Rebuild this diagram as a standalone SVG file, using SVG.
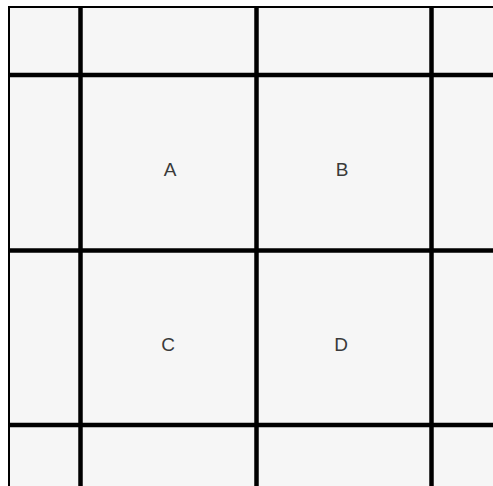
<svg xmlns="http://www.w3.org/2000/svg" width="493" height="486" viewBox="0 0 493 486">
<style>
.grid{stroke:#000;stroke-width:4.5}
.border{stroke:#000;stroke-width:2}
.lbl{font-family:"Liberation Sans",Arial,sans-serif;font-size:19px;fill:#3a3a3a;text-anchor:middle}
</style>
<rect width="493" height="486" fill="#fff"/>
<rect x="9" y="7" width="484" height="479" fill="#f6f6f6"/>
<g id="connectors">
<line class="border" x1="9" y1="7" x2="493" y2="7"/>
<line class="border" x1="9" y1="6" x2="9" y2="486"/>
<line class="grid" x1="80.5" y1="7" x2="80.5" y2="486"/>
<line class="grid" x1="256.5" y1="7" x2="256.5" y2="486"/>
<line class="grid" x1="431.5" y1="7" x2="431.5" y2="486"/>
<line class="grid" x1="9" y1="75" x2="493" y2="75"/>
<line class="grid" x1="9" y1="250.5" x2="493" y2="250.5"/>
<line class="grid" x1="9" y1="425" x2="493" y2="425"/>
</g>
<g id="A"><text class="lbl" x="170" y="176">A</text></g>
<g id="B"><text class="lbl" x="342" y="176">B</text></g>
<g id="C"><text class="lbl" x="168" y="351">C</text></g>
<g id="D"><text class="lbl" x="341" y="351">D</text></g>
</svg>
